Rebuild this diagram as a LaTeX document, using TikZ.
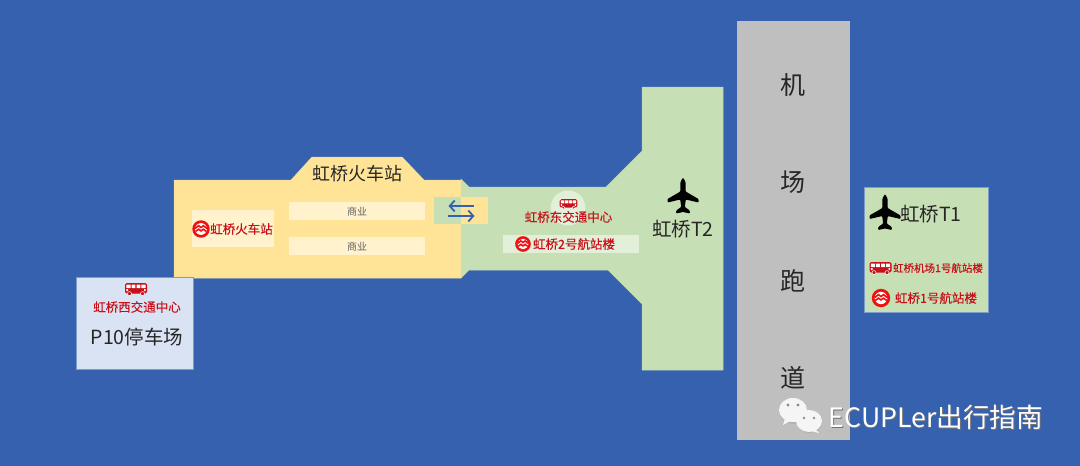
\documentclass[tikz,border=0pt]{standalone}
\usepackage{fontspec}
\usetikzlibrary{arrows.meta}
\setmainfont{Noto Sans CJK SC}
\newfontfamily\redfont[FakeBold=0.3]{Noto Sans CJK SC}
\newcommand{\fsz}[1]{\fontsize{#1}{#1}\selectfont}
\definecolor{bgblue}{HTML}{3561AE}
\definecolor{ygold}{HTML}{FFE498}
\definecolor{ylight}{HTML}{FFF2CC}
\definecolor{lgreen}{HTML}{C6DFB4}
\definecolor{lgreenw}{HTML}{E2EFD9}
\definecolor{pblue}{HTML}{DAE3F3}
\definecolor{rgray}{HTML}{BFBFBF}
\definecolor{edgeb}{HTML}{7C9CCB}
\definecolor{redt}{HTML}{C8101A}
\definecolor{blackt}{HTML}{262626}
\definecolor{metrored}{HTML}{F01010}
\tikzset{
  x=1pt,y=-1pt,
  block/.style={draw=#1!92!bgblue,line width=0.5pt,fill=#1},
  lbl/.style={inner sep=0pt,text=blackt,font=\fsz{#1}},
  redlbl/.style={inner sep=0pt,text=redt,font={\redfont\fsz{#1}}},
  shoplbl/.style={inner sep=0pt,text=black!62,font=\fsz{10}},
  xarrow/.style={draw=bgblue,line width=2pt,-{Straight Barb[length=5pt,width=11pt,line width=1.8pt]}},
  planeicon/.pic={
    \fill[black,rounded corners=0.9pt] (0,-18.5) -- (2.6,-14) -- (2.6,-4.5) -- (15.5,3) -- (15.5,6.5) -- (2.8,3.5) -- (1.8,11) -- (6.8,14.5) -- (6.8,17.5) -- (0,16) -- (-6.8,17.5) -- (-6.8,14.5) -- (-1.8,11) -- (-2.8,3.5) -- (-15.5,6.5) -- (-15.5,3) -- (-2.6,-4.5) -- (-2.6,-14) -- cycle;
  },
  busicon/.pic={
    \fill[redt,rounded corners=1.6pt] (-11,-6) rectangle (11,4.5);
    \fill[white] (-9.6,-4.4) rectangle (-5.5,-0.8) (-4.5,-4.4) rectangle (-0.6,-0.8) (0.5,-4.4) rectangle (4.4,-0.8) (5.4,-4.4) rectangle (9.6,-0.8);
    \fill[white] (-9.6,0.2) rectangle (-8,2.2) (8,0.2) rectangle (9.6,2.2);
    \fill[redt,draw=white,line width=0.5pt] (-6.5,4.6) circle (2) (6.5,4.6) circle (2);
  },
  metroicon/.pic={
    \fill[metrored] (0,0) circle (9.2);
    \fill[white] (0,0) circle (6.2);
    \begin{scope}
      \clip (0,0) circle (6.4);
      \draw[metrored,line width=4.4pt] (-7,1.6) .. controls (-4.5,1.2) and (-4,-1.6) .. (-2.5,-1.6) .. controls (-1.3,-1.6) and (-1,0.2) .. (0,0.2) .. controls (1,0.2) and (1.3,-1.6) .. (2.5,-1.6) .. controls (4,-1.6) and (4.5,1.2) .. (7,1.6);
      \draw[white,line width=0.9pt] (-7,1.6) .. controls (-4.5,1.2) and (-4,-1.6) .. (-2.5,-1.6) .. controls (-1.3,-1.6) and (-1,0.2) .. (0,0.2) .. controls (1,0.2) and (1.3,-1.6) .. (2.5,-1.6) .. controls (4,-1.6) and (4.5,1.2) .. (7,1.6);
    \end{scope}
  },
}
\begin{document}
\begin{tikzpicture}
\useasboundingbox (0,0) rectangle (1080,466);
\fill[bgblue] (0,0) rectangle (1080,466);
% terminal 2 concourse
\path[block=lgreen] (461,179) -- (469,187) -- (606,187) -- (642,151) -- (642,87) -- (723,87) -- (723,370) -- (642,370) -- (642,304) -- (608,270) -- (469,270) -- (461,278) -- cycle;
% station
\path[block=ygold] (174,180) -- (291,180) -- (312,157) -- (402,157) -- (424,180) -- (461,180) -- (461,278) -- (174,278) -- cycle;
% panels
\fill[ylight] (192,210) rectangle (274,247);
\fill[ylight] (289,202) rectangle (425,220);
\fill[ylight] (289,237) rectangle (425,255);
\fill[lgreen] (434,197) rectangle (461,224);
\fill[ygold] (461,197) rectangle (488,224);
\fill[lgreenw] (568,208) circle (17.5);
\fill[lgreenw] (503,235) rectangle (639,253);
\path[block=pblue,draw=edgeb] (76.7,277.7) rectangle (193.7,369.7);
\fill[rgray] (736.5,21) rectangle (850,440);
\path[block=lgreen,draw=edgeb] (864.7,187.7) rectangle (988.7,312.7);
% exchange arrows
\coordinate (xa1) at (474,206); \coordinate (xa2) at (448.5,206);
\coordinate (xb1) at (448,216); \coordinate (xb2) at (474.5,216);
\draw[xarrow] (xa1) -- (xa2);
\draw[xarrow] (xb1) -- (xb2);
% labels
\node[lbl=18] (station) at (357.5,174) {虹桥火车站};
\node[redlbl=12.5] (stationm) at (241.5,229) {虹桥火车站};
\node[shoplbl] (shop1) at (357,211.5) {商业};
\node[shoplbl] (shop2) at (357,246.5) {商业};
\node[redlbl=12.5] (west) at (137,307) {虹桥西交通中心};
\node[lbl=19.5] (p10) at (137,337) {P10停车场};
\node[redlbl=12.5] (east) at (568.5,217) {虹桥东交通中心};
\node[redlbl=12.5] (t2m) at (574,244) {虹桥2号航站楼};
\node[lbl=19.5] (t2) at (683,229) {虹桥T2};
\node[lbl=19.5] (t1) at (931,214) {虹桥T1};
\node[redlbl=10.5] (t1b) at (938,268) {虹桥机场1号航站楼};
\node[redlbl=12.5] (t1m) at (936,298) {虹桥1号航站楼};
\node[lbl=25] (r1) at (793,85) {机};
\node[lbl=25] (r2) at (793,182) {场};
\node[lbl=25] (r3) at (793,281) {跑};
\node[lbl=25] (r4) at (793,378) {道};
% icons
\pic at (683,196) {planeicon};
\pic at (885,212.5) {planeicon};
\pic at (136,289) {busicon};
\pic[scale=0.8] at (568.5,204) {busicon};
\pic at (880.5,268) {busicon};
\pic[scale=0.95] at (201,229) {metroicon};
\pic[scale=0.85] at (523,244) {metroicon};
\pic at (881,298) {metroicon};
% wechat mark
\fill[black!35,opacity=.5] (793.5,412) ellipse (14 and 12);
\fill[white!96!black] (793,410) ellipse (14 and 12);
\fill[white!96!black] (785,418) -- (783,425) -- (792,420) -- cycle;
\fill[black!35,opacity=.6] (809.5,422) ellipse (13 and 11);
\fill[white!96!black] (809,421) ellipse (13 and 11);
\fill[white!96!black] (815,429) -- (819,433) -- (811,431) -- cycle;
\fill[black!45] (788,405) circle (1.6) (798,405) circle (1.6) (804,418) circle (1.4) (814,418) circle (1.4);
\node[inner sep=0pt,text=black!55,font=\fsz{26.7}] (brands) at (936.8,418) {ECUPLer出行指南};
\node[inner sep=0pt,text=white,font=\fsz{26.7}] (brand) at (936,417) {ECUPLer出行指南};
\end{tikzpicture}
\end{document}
